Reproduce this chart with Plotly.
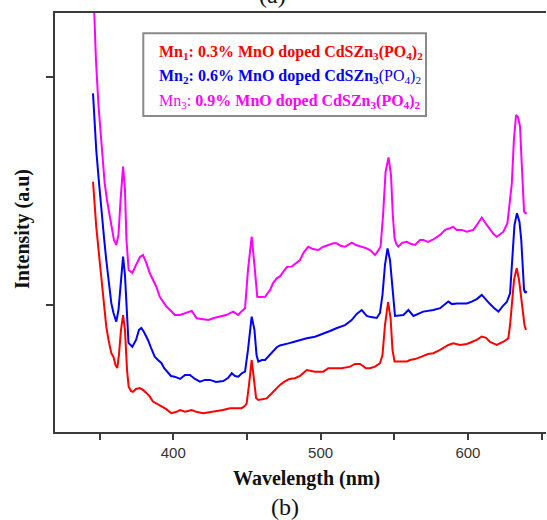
import plotly.graph_objects as go

# Photoluminescence emission spectra of MnO doped CdSZn3(PO4)2 glasses
# Mn1: 0.3 % MnO
wl_mn1 = [345.5, 347.7, 349.6, 351.1, 353.0, 354.5, 356.0, 357.9, 359.4, 360.8, 362.0, 363.1,
          364.5, 365.9, 367.2, 368.6, 369.7, 371.3, 372.6, 374.7, 377.2, 379.4, 381.7, 383.8,
          386.2, 388.9, 391.9, 395.0, 398.6, 401.8, 404.6, 408.0, 412.5, 416.1, 420.4, 424.9,
          429.5, 433.7, 438.5, 442.6, 446.4, 448.7, 449.8, 451.4, 453.2, 454.8, 456.2, 457.7,
          460.2, 463.4, 465.7, 467.9, 469.7, 472.4, 475.2, 478.8, 482.6, 486.0, 490.6, 496.2,
          501.8, 505.2, 510.9, 514.3, 520.0, 523.4, 526.8, 530.8, 533.5, 536.9, 540.3, 542.0,
          543.7, 545.8, 547.5, 548.8, 550.2, 553.9, 558.5, 560.7, 564.1, 568.6, 572.9, 576.5,
          581.1, 586.7, 590.1, 594.6, 599.2, 602.6, 606.0, 609.4, 612.3, 615.0, 619.6, 624.1,
          627.4, 628.6, 629.7, 631.3, 633.1, 634.7, 636.1, 637.4, 638.4, 639.4]
int_mn1 = [1540, 1343, 1219, 1124, 1000, 905, 847, 790, 772, 737, 724, 781,
           891, 956, 891, 715, 642, 623, 620, 632, 636, 628, 615, 601,
           577, 566, 555, 545, 526, 531, 540, 533, 540, 531, 526, 531,
           533, 540, 548, 548, 548, 558, 570, 650, 759, 672, 593, 584,
           588, 591, 606, 620, 636, 650, 663, 676, 679, 689, 715, 708,
           708, 723, 723, 723, 730, 742, 742, 723, 723, 730, 745, 781,
           912, 1013, 943, 803, 752, 752, 752, 759, 763, 774, 785, 789,
           803, 825, 832, 825, 829, 838, 847, 862, 856, 838, 825, 839,
           854, 912, 993, 1110, 1161, 1110, 1036, 956, 912, 891]

# Mn2: 0.6 % MnO
wl_mn2 = [345.5, 347.7, 349.4, 351.1, 353.0, 354.5, 356.4, 357.9, 359.4, 361.3, 362.8, 364.5,
          365.9, 367.2, 368.6, 369.6, 372.2, 374.7, 376.7, 378.3, 380.1, 382.8, 384.9, 387.4,
          389.6, 391.9, 393.7, 396.4, 398.4, 400.9, 404.6, 408.0, 411.3, 414.7, 418.1, 421.5,
          424.9, 429.0, 433.9, 437.1, 439.7, 441.9, 444.1, 446.7, 448.7, 450.7, 453.2, 455.1,
          456.5, 457.7, 460.2, 462.3, 465.0, 467.9, 470.4, 472.4, 475.2, 478.1, 481.5, 486.0,
          490.6, 496.2, 501.8, 506.4, 511.1, 516.6, 521.1, 524.5, 527.9, 531.3, 534.2, 538.1,
          540.3, 542.0, 543.7, 545.4, 547.1, 548.7, 549.8, 550.5, 556.2, 559.6, 563.0, 566.1,
          569.7, 576.5, 581.1, 586.7, 589.2, 592.4, 599.2, 602.6, 606.0, 609.4, 612.3, 615.0,
          617.7, 620.7, 623.8, 626.4, 628.6, 630.0, 631.6, 633.3, 635.0, 636.2, 637.3, 638.1,
          639.0, 639.8]
int_mn2 = [1927, 1679, 1548, 1416, 1293, 1197, 1088, 1009, 965, 927, 978, 1131,
           1212, 1131, 912, 834, 817, 847, 891, 899, 882, 847, 812, 774,
           759, 746, 724, 702, 689, 686, 676, 693, 693, 676, 664, 672,
           672, 663, 667, 680, 701, 689, 686, 702, 708, 803, 949, 891,
           781, 752, 759, 759, 777, 796, 816, 823, 829, 832, 838, 847,
           854, 861, 873, 886, 899, 912, 934, 961, 978, 952, 947, 943,
           965, 1044, 1175, 1248, 1197, 1066, 969, 952, 956, 978, 952, 961,
           971, 978, 986, 1015, 1004, 1007, 1007, 1015, 1026, 1044, 1022, 1004,
           987, 971, 996, 1013, 1051, 1197, 1350, 1402, 1364, 1285, 1153, 1066,
           1053, 1061]

# Mn3: 0.9 % MnO
wl_mn3 = [345.8, 347.5, 349.2, 351.1, 352.3, 353.4, 355.0, 356.8, 358.4, 359.7, 361.3, 362.8,
          364.2, 365.9, 367.2, 368.2, 369.7, 372.2, 374.7, 377.4, 379.4, 381.5, 384.0, 386.2,
          388.5, 390.8, 393.0, 395.3, 397.8, 401.0, 404.6, 408.0, 410.3, 412.5, 415.9, 419.5,
          423.8, 427.6, 431.7, 435.8, 440.7, 444.1, 446.6, 448.7, 450.7, 453.2, 455.1, 457.0,
          459.5, 462.3, 465.7, 467.7, 470.2, 472.4, 474.7, 477.2, 480.4, 483.3, 486.0, 488.7,
          491.6, 494.8, 498.4, 501.6, 505.2, 508.6, 510.9, 513.9, 516.6, 521.1, 524.0, 527.9,
          531.3, 534.2, 536.9, 539.0, 540.7, 542.4, 544.1, 546.1, 547.8, 549.0, 550.2, 551.4,
          552.8, 555.3, 558.5, 561.4, 564.1, 567.5, 569.7, 572.9, 576.5, 581.1, 584.5, 587.8,
          590.1, 592.4, 595.8, 599.2, 603.7, 606.5, 609.4, 612.3, 615.0, 617.4, 619.6, 621.8,
          624.1, 626.8, 628.3, 629.8, 631.2, 632.7, 634.0, 635.4, 636.4, 637.2, 638.1, 639.0,
          640.0]
int_mn3 = [2380, 2073, 1876, 1710, 1613, 1534, 1460, 1385, 1329, 1285, 1263, 1307,
           1460, 1606, 1504, 1285, 1153, 1140, 1175, 1210, 1219, 1188, 1140, 1110,
           1080, 1036, 1013, 993, 978, 956, 956, 965, 969, 974, 942, 939,
           934, 943, 949, 956, 971, 956, 974, 986, 1153, 1299, 1175, 1036,
           1035, 1036, 1066, 1096, 1117, 1125, 1146, 1167, 1168, 1184, 1197, 1232,
           1255, 1245, 1241, 1254, 1263, 1270, 1270, 1258, 1255, 1273, 1263, 1255,
           1248, 1237, 1219, 1237, 1255, 1394, 1583, 1646, 1569, 1394, 1293, 1267,
           1255, 1272, 1277, 1267, 1263, 1285, 1285, 1276, 1287, 1307, 1329, 1336,
           1342, 1329, 1329, 1321, 1329, 1355, 1383, 1355, 1329, 1311, 1299, 1311,
           1321, 1358, 1438, 1533, 1723, 1832, 1823, 1781, 1635, 1504, 1409, 1402,
           1402]

x_ticks = [350, 400, 450, 500, 550, 600, 650]
x_tick_text = ["", "400", "", "500", "", "600", ""]
y_ticks = [1000, 2000]

series = [
    (wl_mn1, int_mn1, "#ff0000", "Mn1"),
    (wl_mn2, int_mn2, "#0000ff", "Mn2"),
    (wl_mn3, int_mn3, "#ff00ff", "Mn3"),
]

serif = "Liberation Serif, Times New Roman, serif"
sans = "Liberation Sans, Arial, sans-serif"
axis_col = "#3c3c3c"

fig = go.Figure()
for x, y, col, name in series:
    fig.add_trace(go.Scatter(x=x, y=y, mode="lines", name=name,
                             line=dict(color=col, width=2), showlegend=False))

fig.update_layout(
    width=547, height=520,
    margin=dict(l=55, r=1, t=13, b=88),
    paper_bgcolor="white", plot_bgcolor="white",
    xaxis=dict(range=[319.7, 653.0], tickvals=x_ticks, ticktext=x_tick_text,
               ticks="outside", ticklen=6, tickwidth=1.5, tickcolor=axis_col,
               showline=True, linecolor=axis_col, linewidth=1.8, mirror=True,
               showgrid=False, zeroline=False,
               tickfont=dict(family=sans, size=15, color="#333333")),
    yaxis=dict(range=[443.7, 2279], tickvals=y_ticks, showticklabels=False,
               ticks="outside", ticklen=7, tickwidth=1.5, tickcolor=axis_col,
               showline=True, linecolor=axis_col, linewidth=1.8, mirror=False,
               showgrid=False, zeroline=False),
)

# Legend box
fig.add_shape(type="rect", xref="paper", yref="paper",
              x0=(143.3 - 55) / 491, x1=(426 - 55) / 491,
              y0=(432 - 116) / 419, y1=(432 - 33.3) / 419,
              line=dict(color="#8a8a8a", width=2), fillcolor="white")

legend_rows = [
    ("<b>Mn<sub>1</sub>: 0.3% MnO doped CdSZn<sub>3</sub>(PO<sub>4</sub>)<sub>2</sub></b>", "#ff0000", 52),
    ("<b>Mn<sub>2</sub>: 0.6% MnO doped CdSZn<sub>3</sub></b>(PO<sub>4</sub>)<sub>2</sub>", "#0000ff", 77),
    ("Mn<sub>3</sub>: <b>0.9% MnO doped CdSZn<sub>3</sub>(PO<sub>4</sub>)<sub>2</sub></b>", "#ff00ff", 102),
]
for text, col, ypx in legend_rows:
    fig.add_annotation(xref="paper", yref="paper", x=(157 - 55) / 491, y=(432 - ypx) / 419,
                       xanchor="left", yanchor="middle", showarrow=False, text=text,
                       font=dict(family=serif, size=16, color=col))

# Axis titles and panel labels
fig.add_annotation(xref="paper", yref="paper", x=(306.7 - 55) / 491, y=(432 - 478) / 419,
                   xanchor="center", yanchor="middle", showarrow=False,
                   text="<b>Wavelength (nm)</b>", font=dict(family=serif, size=20, color="#111"))
fig.add_annotation(xref="paper", yref="paper", x=(22 - 55) / 491, y=(432 - 229) / 419,
                   xanchor="center", yanchor="middle", showarrow=False, textangle=-90,
                   text="<b>Intensity (a.u)</b>", font=dict(family=serif, size=20, color="#111"))
fig.add_annotation(xref="paper", yref="paper", x=(285 - 55) / 491, y=(432 - 507) / 419,
                   xanchor="center", yanchor="middle", showarrow=False,
                   text="(b)", font=dict(family=serif, size=24, color="#111"))
fig.add_annotation(xref="paper", yref="paper", x=(272 - 55) / 491, y=(432 + 5) / 419,
                   xanchor="center", yanchor="middle", showarrow=False,
                   text="(a)", font=dict(family=serif, size=24, color="#111"))

fig.write_html("out.html")
